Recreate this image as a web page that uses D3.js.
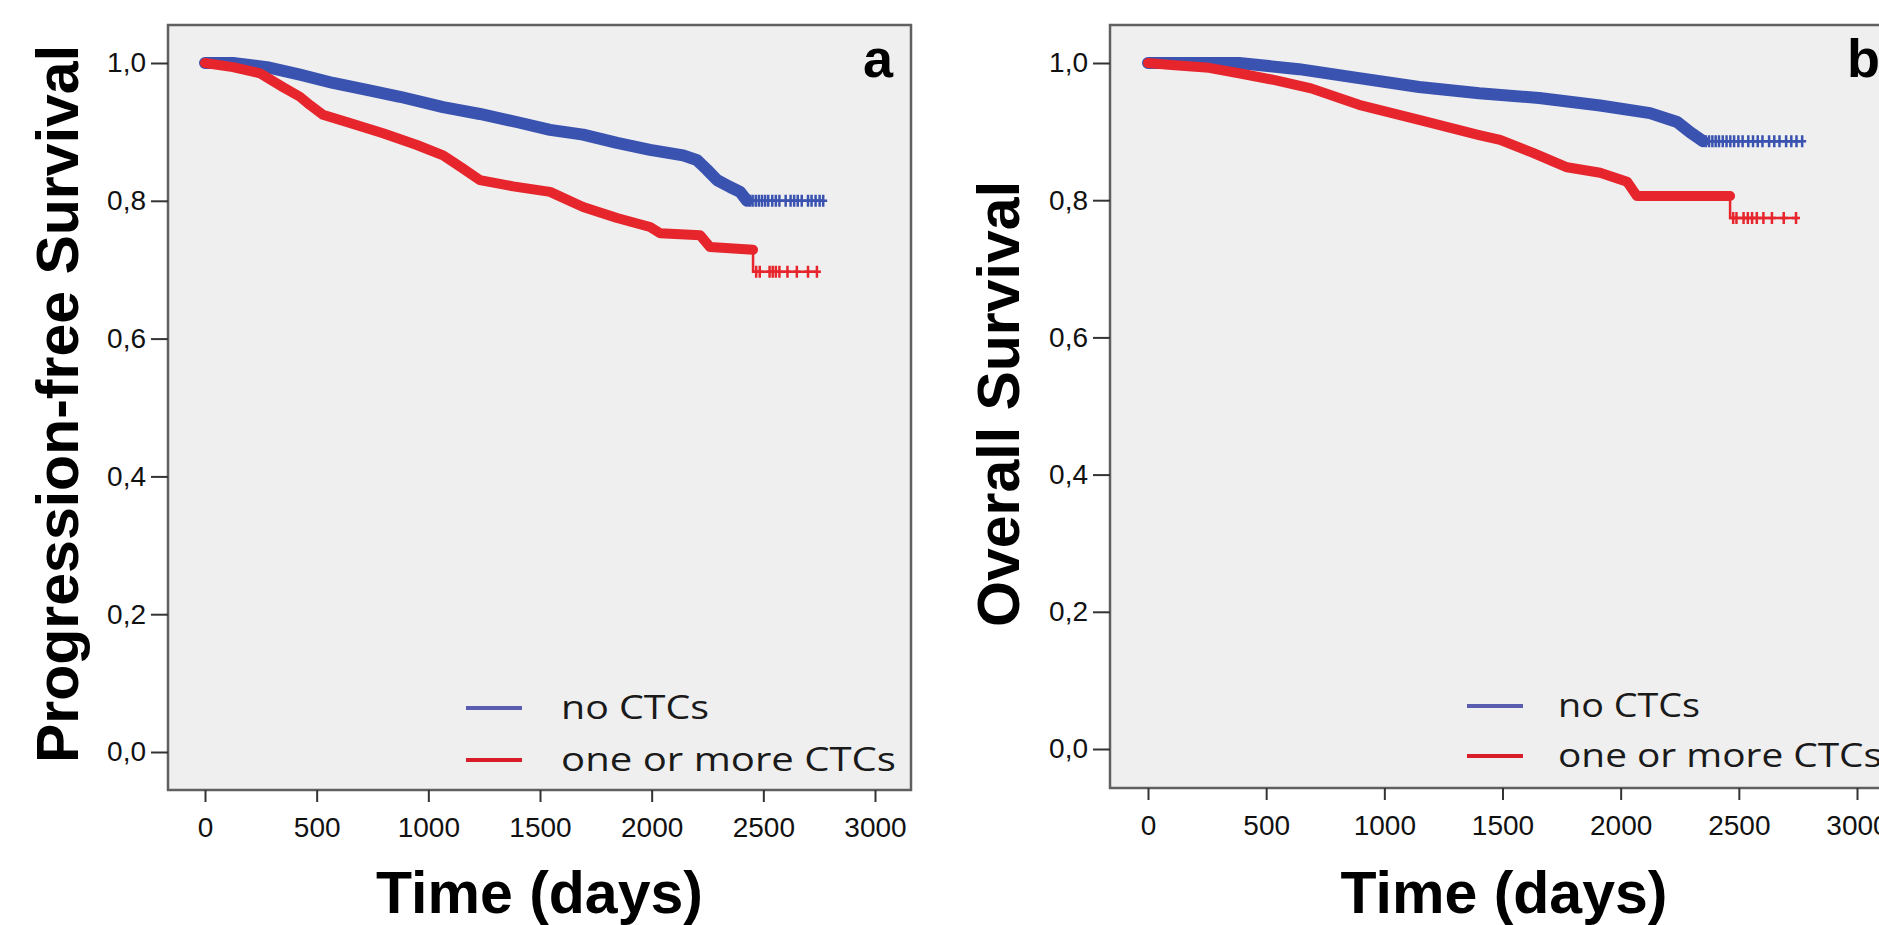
<!DOCTYPE html>
<html>
<head>
<meta charset="utf-8">
<script src="https://cdn.jsdelivr.net/npm/d3@7"></script>
<style>
  body { margin: 0; background: #fff; }
  svg { display: block; }
</style>
</head>
<body>
<svg id="kmChart" width="1879" height="925"></svg>
<script>
var xTicks = [0, 500, 1000, 1500, 2000, 2500, 3000];
var yTicks = [0, 0.2, 0.4, 0.6, 0.8, 1.0];
var groupNames = ["no CTCs", "one or more CTCs"];
var panelLetters = ["a", "b"];
var yTitles = ["Progression-free Survival", "Overall Survival"];
var xTitle = "Time (days)";

// panel a: progression-free survival
var pfsNoTime = [0, 125, 277, 425, 573, 725, 873, 1066, 1231, 1400, 1545, 1693, 1845, 1993, 2141, 2203, 2248, 2293, 2351, 2396, 2427, 2768];
var pfsNoSurv = [1.0, 1.0, 0.994, 0.983, 0.971, 0.961, 0.951, 0.936, 0.926, 0.914, 0.903, 0.896, 0.884, 0.874, 0.866, 0.859, 0.845, 0.830, 0.820, 0.813, 0.800, 0.800];
var pfsNoCensor = [2440, 2452, 2466, 2480, 2494, 2508, 2522, 2540, 2556, 2572, 2600, 2622, 2638, 2654, 2672, 2700, 2716, 2734, 2752, 2768];

var pfsCtcTime = [0, 125, 246, 349, 425, 470, 528, 649, 797, 949, 1066, 1150, 1231, 1380, 1545, 1693, 1845, 1993, 2038, 2217, 2261, 2454, 2454, 2740];
var pfsCtcSurv = [1.0, 0.994, 0.985, 0.965, 0.951, 0.939, 0.925, 0.913, 0.898, 0.881, 0.866, 0.848, 0.830, 0.821, 0.813, 0.791, 0.775, 0.762, 0.753, 0.750, 0.733, 0.729, 0.697, 0.697];
var pfsCtcCensor = [2468, 2484, 2528, 2542, 2556, 2572, 2608, 2650, 2700, 2740];

// panel b: overall survival
var osNoTime = [0, 385, 639, 893, 1147, 1401, 1655, 1913, 2124, 2239, 2294, 2349, 2768];
var osNoSurv = [1.0, 1.0, 0.991, 0.978, 0.965, 0.956, 0.949, 0.938, 0.927, 0.914, 0.899, 0.886, 0.886];
var osNoCensor = [2360, 2374, 2388, 2402, 2416, 2432, 2448, 2464, 2480, 2498, 2516, 2540, 2560, 2580, 2600, 2628, 2650, 2672, 2700, 2722, 2744, 2768];

var osCtcTime = [0, 100, 258, 385, 537, 690, 893, 1147, 1401, 1490, 1629, 1773, 1913, 2027, 2069, 2463, 2463, 2750];
var osCtcSurv = [1.0, 0.997, 0.993, 0.985, 0.975, 0.963, 0.939, 0.917, 0.895, 0.888, 0.869, 0.848, 0.840, 0.827, 0.806, 0.806, 0.774, 0.774];
var osCtcCensor = [2476, 2490, 2520, 2538, 2556, 2576, 2604, 2640, 2690, 2742];

var blue = "#3a53b0",
    red  = "#e6252c",
    legendColors = ["#5a5cb0", "#d81c28"];

var svg = d3.select("#kmChart");

var panels = [
  { letter: panelLetters[0], yTitle: yTitles[0],
    box: {left: 168, top: 25, right: 911, bottom: 790},
    xRange: [205, 875], yRange: [752, 63],
    titleX: 78, letterX: 893, anchor: "end",
    legendX: 466, legendY: [708, 760], textX: 561, textLen: [148, 335],
    curves: [
      {time: pfsNoTime, surv: pfsNoSurv, censor: pfsNoCensor, bandTo: 2427, color: blue, band: 12},
      {time: pfsCtcTime, surv: pfsCtcSurv, censor: pfsCtcCensor, bandTo: 2454, color: red, band: 10}
    ] },
  { letter: panelLetters[1], yTitle: yTitles[1],
    box: {left: 1110, top: 25, right: 1898, bottom: 788},
    xRange: [1148, 1857], yRange: [749, 63],
    titleX: 1019, letterX: 1847, anchor: "start",
    legendX: 1467, legendY: [706, 756], textX: 1558, textLen: [142, 324],
    curves: [
      {time: osNoTime, surv: osNoSurv, censor: osNoCensor, bandTo: 2349, color: blue, band: 12},
      {time: osCtcTime, surv: osCtcSurv, censor: osCtcCensor, bandTo: 2463, color: red, band: 10}
    ] }
];

panels.forEach(function(p) {
  var x = d3.scaleLinear().domain([0, 3000]).range(p.xRange);
  var y = d3.scaleLinear().domain([0, 1]).range(p.yRange);
  var g = svg.append("g");

  // plot background
  g.append("rect")
    .attr("x", p.box.left)
    .attr("y", p.box.top)
    .attr("width", p.box.right - p.box.left)
    .attr("height", p.box.bottom - p.box.top)
    .attr("fill", "#efefef")
    .attr("stroke", "#606060")
    .attr("stroke-width", 2.5);

  // y axis
  var yAxis = g.append("g")
    .attr("transform", "translate(" + p.box.left + ",0)")
    .call(d3.axisLeft(y).tickValues(yTicks).tickSize(17).tickPadding(5)
      .tickFormat(function(d) { return d.toFixed(1).replace(".", ","); }));
  yAxis.select(".domain").remove();

  // x axis
  var xAxis = g.append("g")
    .attr("transform", "translate(0," + p.box.bottom + ")")
    .call(d3.axisBottom(x).tickValues(xTicks).tickSize(12).tickPadding(15)
      .tickFormat(d3.format("d")));
  xAxis.select(".domain").remove();

  [yAxis, xAxis].forEach(function(a) {
    a.selectAll("line").attr("stroke", "#333").attr("stroke-width", 2);
    a.selectAll("text")
      .attr("fill", "#111")
      .style("font-family", "'Liberation Sans', Arial, sans-serif")
      .style("font-size", "28px");
  });

  // survival curves
  var line = d3.line()
    .x(function(d) { return x(d[0]); })
    .y(function(d) { return y(d[1]); });

  p.curves.forEach(function(c) {
    var pts = c.time.map(function(t, i) { return [t, c.surv[i]]; });
    var nBand = d3.bisectLeft(c.time, c.bandTo) + 1;

    g.append("path")
      .attr("d", line(pts.slice(0, nBand)))
      .attr("fill", "none")
      .attr("stroke", c.color)
      .attr("stroke-width", c.band)
      .attr("stroke-linejoin", "round")
      .attr("stroke-linecap", "round");

    g.append("path")
      .attr("d", line(pts))
      .attr("fill", "none")
      .attr("stroke", c.color)
      .attr("stroke-width", 2.5);

    // censoring marks
    g.selectAll(null)
      .data(c.censor)
      .enter().append("path")
        .attr("d", function(t) {
          var i = d3.bisectRight(c.time, t) - 1;
          var cx = x(t), cy = y(c.surv[Math.max(0, i)]);
          return "M" + (cx - 4) + "," + cy + "H" + (cx + 4) +
                 "M" + cx + "," + (cy - 6) + "V" + (cy + 6);
        })
        .attr("stroke", c.color)
        .attr("stroke-width", 2.5)
        .attr("fill", "none");
  });

  // legend
  groupNames.forEach(function(name, i) {
    g.append("line")
      .attr("x1", p.legendX).attr("x2", p.legendX + 56)
      .attr("y1", p.legendY[i]).attr("y2", p.legendY[i])
      .attr("stroke", legendColors[i])
      .attr("stroke-width", 4);
    g.append("text")
      .attr("x", p.textX)
      .attr("y", p.legendY[i] + 11)
      .attr("textLength", p.textLen[i])
      .attr("lengthAdjust", "spacingAndGlyphs")
      .style("font-family", "'Open Sans', sans-serif")
      .style("font-size", "33px")
      .attr("fill", "#1a1a1a")
      .text(name);
  });

  // panel letter
  g.append("text")
    .attr("x", p.letterX)
    .attr("y", 77)
    .attr("text-anchor", p.anchor)
    .style("font-family", "'Liberation Sans', Arial, sans-serif")
    .style("font-size", "54px")
    .style("font-weight", "bold")
    .text(p.letter);

  // axis titles
  g.append("text")
    .attr("transform", "translate(" + p.titleX + ",404) rotate(-90)")
    .attr("text-anchor", "middle")
    .style("font-family", "'Liberation Sans', Arial, sans-serif")
    .style("font-size", "59px")
    .style("font-weight", "bold")
    .text(p.yTitle);

  g.append("text")
    .attr("x", (p.box.left + p.box.right) / 2)
    .attr("y", 913)
    .attr("text-anchor", "middle")
    .style("font-family", "'Liberation Sans', Arial, sans-serif")
    .style("font-size", "59px")
    .style("font-weight", "bold")
    .text(xTitle);
});
</script>
</body>
</html>
